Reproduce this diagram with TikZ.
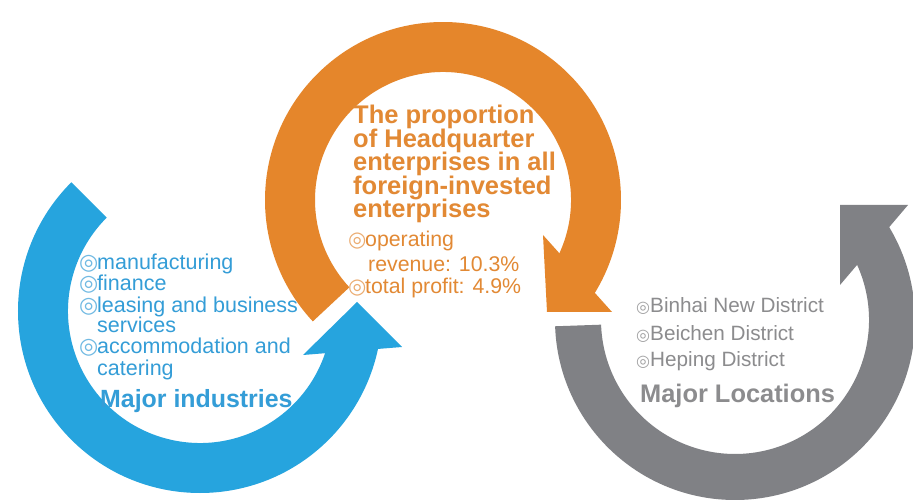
\documentclass[tikz,border=0pt]{standalone}
\usepackage{fontspec}
\setmainfont{Liberation Sans}
\newfontfamily\bulfont{DejaVu Sans}
\definecolor{ringblue}{RGB}{38,164,222}
\definecolor{ringorange}{RGB}{229,134,43}
\definecolor{ringgrey}{RGB}{128,129,133}
\definecolor{txtblue}{RGB}{52,157,215}
\definecolor{txtorange}{RGB}{226,137,52}
\definecolor{txtgrey}{RGB}{140,140,142}
\newcommand\mybul[3]{\makebox[#2][l]{\textcolor{#3}{\bulfont\fontsize{#1}{#1}\selectfont ◎}}}
\begin{document}
\begin{tikzpicture}[x=1pt,y=1pt,
  every node/.style={inner sep=0pt,anchor=base west},
  btxt/.style={text=txtblue,font=\fontsize{21.5}{21}\selectfont},
  bbold/.style={text=txtblue,font=\bfseries\fontsize{24.9}{25}\selectfont},
  otxt/.style={text=txtorange,font=\fontsize{21.3}{22}\selectfont},
  obold/.style={text=txtorange,font=\bfseries\fontsize{25.5}{24}\selectfont},
  gtxt/.style={text=txtgrey,font=\fontsize{20.7}{22}\selectfont},
  gbold/.style={text=txtgrey,font=\bfseries\fontsize{25.4}{25}\selectfont}]
\useasboundingbox (0,0) rectangle (913,501);
\fill[white] (0,0) rectangle (913,501);
% centres
\coordinate (bc) at (200,190);
\coordinate (oc) at (443,301);
\coordinate (gc) at (735,181);
% blue arrow
\fill[ringblue] ([shift={(135:182pt)}]bc) arc[start angle=135,end angle=349,radius=182pt]
  -- ([shift={(344:132pt)}]bc) arc[start angle=344,end angle=135,radius=132pt] -- cycle;
\fill[ringblue] (357,199) -- (402,154) -- (303,146) -- cycle;
% orange arrow
\fill[ringorange] ([shift={(223:178pt)}]oc) arc[start angle=223,end angle=-32.5,radius=178pt]
  -- ([shift={(-26:128pt)}]oc) arc[start angle=-26,end angle=223,radius=128pt] -- cycle;
\fill[ringorange] (543,266) -- (547,189) -- (612,189) -- cycle;
% grey arrow
\fill[ringgrey] ([shift={(182:180pt)}]gc) arc[start angle=182,end angle=392.5,radius=180pt]
  -- ([shift={(386:134pt)}]gc) arc[start angle=386,end angle=182,radius=134pt] -- cycle;
\fill[ringgrey] (840,296) -- (908,296) -- (840,216) -- cycle;
% blue text
\node[btxt] (b1) at (79,231.5) {\mybul{22}{18pt}{txtblue!70!white}manufacturing};
\node[btxt] (b2) at (79,210) {\mybul{22}{18pt}{txtblue!70!white}finance};
\node[btxt] (b3) at (79,188.5) {\mybul{22}{18pt}{txtblue!70!white}leasing and business};
\node[btxt] (b4) at (97,168) {services};
\node[btxt] (b5) at (79,147) {\mybul{22}{18pt}{txtblue!70!white}accommodation and};
\node[btxt] (b6) at (97,125) {catering};
\node[bbold] (bt) at (100,94) {Major industries};
% orange text
\node[obold] (o1) at (353,377) {The proportion};
\node[obold] (o2) at (353,353.5) {of Headquarter};
\node[obold] (o3) at (353,330) {enterprises in all};
\node[obold] (o4) at (353,306.5) {foreign-invested};
\node[obold] (o5) at (353,283) {enterprises};
\node[otxt] (p1) at (348,254) {\mybul{21}{17pt}{txtorange!70!white}operating};
\node[otxt] (p2) at (368,229) {revenue: 10.3\%};
\node[otxt] (p3) at (348,207) {\mybul{21}{17pt}{txtorange!70!white}total profit: 4.9\%};
% grey text
\node[gtxt] (g1) at (636,188) {\mybul{16}{14pt}{txtgrey!80!white}Binhai New District};
\node[gtxt] (g2) at (636,160) {\mybul{16}{14pt}{txtgrey!80!white}Beichen District};
\node[gtxt] (g3) at (636,134) {\mybul{16}{14pt}{txtgrey!80!white}Heping District};
\node[gbold] (gt) at (640,99) {Major Locations};
\end{tikzpicture}
\end{document}
